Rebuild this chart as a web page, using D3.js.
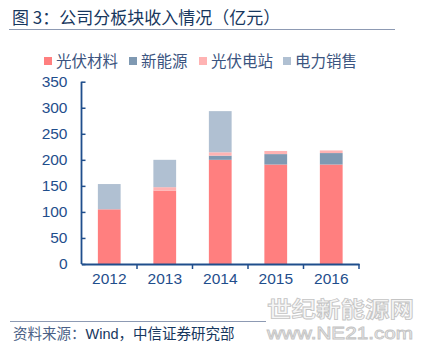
<!DOCTYPE html>
<html><head><meta charset="utf-8">
<script src="https://cdn.jsdelivr.net/npm/d3@7"></script>
<style>
html,body{margin:0;padding:0;background:#fff;}
svg{display:block;font-family:"Liberation Sans",Arial,"Noto Sans CJK SC",sans-serif;}
</style></head>
<body>
<svg id="c" width="423" height="347"></svg>
<script>
const years = ["2012","2013","2014","2015","2016"];
const seriesNames = ["光伏材料","新能源","光伏电站","电力销售"];
const pvMaterials = [105, 141, 200, 191, 191];
const newEnergy = [0, 0, 8, 20, 22];
const pvStations = [0, 6.5, 6.5, 6, 5];
const powerSales = [48.5, 52.5, 79, 0, 0];
const yTicks = [0, 50, 100, 150, 200, 250, 300, 350];
const colors = ["#FF7F7F", "#7F99B2", "#FFB3B3", "#B0C0D2"];

const seriesValues = [pvMaterials, newEnergy, pvStations, powerSales];
const table = years.map((y, i) => {
  const row = {year: y};
  seriesNames.forEach((s, j) => row[s] = seriesValues[j][i]);
  return row;
});

const svg = d3.select("#c");
const navy = "#17375E";
const axisCol = "#1F4E8C";
const cjk = "\"Noto Sans CJK SC\",\"Liberation Sans\",sans-serif";

// title
svg.append("text").attr("x", 12).attr("y", 24)
  .attr("font-family", cjk).attr("font-size", 17).attr("fill", navy)
  .text("图 3：公司分板块收入情况（亿元）");
svg.append("line").attr("x1", 9).attr("x2", 395).attr("y1", 29.5).attr("y2", 29.5)
  .attr("stroke", "#8D9AB3").attr("stroke-width", 1);

// scales
const x = d3.scaleBand().domain(years).range([81.5, 359]).paddingInner(0.59).paddingOuter(0.295);
const y = d3.scaleLinear().domain([0, 350]).range([264, 81.7]);

// bars
const stack = d3.stack().keys(seriesNames)(table);
svg.append("g").selectAll("g").data(stack).join("g")
  .attr("fill", (d, i) => colors[i])
  .selectAll("rect").data(d => d).join("rect")
  .attr("x", d => x(d.data.year))
  .attr("width", x.bandwidth())
  .attr("y", d => y(d[1]))
  .attr("height", d => y(d[0]) - y(d[1]));

// y axis
const ya = svg.append("g").attr("transform", "translate(81.5,0)")
  .call(d3.axisLeft(y).tickValues(yTicks).tickSize(-4).tickPadding(14));
ya.select(".domain").attr("stroke", axisCol).attr("stroke-width", 1.8).attr("d", `M0,${y(0)}V${y(350)}`);
ya.selectAll(".tick line").attr("stroke", axisCol).attr("stroke-width", 1.5);
ya.selectAll(".tick text").attr("fill", axisCol).attr("font-size", 15.5)
  .attr("font-family", "\"Liberation Sans\",Arial,sans-serif");

// x axis
const xa = svg.append("g").attr("transform", `translate(0,${y(0)})`)
  .call(d3.axisBottom(x).tickSize(0).tickPadding(9));
xa.select(".domain").attr("stroke", axisCol).attr("stroke-width", 1.8);
xa.selectAll(".tick text").attr("fill", axisCol).attr("font-size", 15.5)
  .attr("font-family", "\"Liberation Sans\",Arial,sans-serif");
const bounds = d3.range(1, years.length + 1).map(i => x.range()[0] + i * x.step());
xa.selectAll("line.sep").data(bounds).join("line").attr("class", "sep")
  .attr("x1", d => d).attr("x2", d => d).attr("y1", 0).attr("y2", 5)
  .attr("stroke", axisCol).attr("stroke-width", 1.5);

// legend
const legX = [44, 129, 199, 283];
const lg = svg.append("g");
seriesNames.forEach((s, i) => {
  lg.append("rect").attr("x", legX[i]).attr("y", 57).attr("width", 8).attr("height", 8).attr("fill", colors[i]);
  lg.append("text").attr("x", legX[i] + 12).attr("y", 67)
    .attr("font-family", cjk).attr("font-size", 15.5).attr("fill", "#3B5480").text(s);
});

// footer
svg.append("line").attr("x1", 10).attr("x2", 395).attr("y1", 321.5).attr("y2", 321.5)
  .attr("stroke", "#8D9AB3").attr("stroke-width", 1);
const ft = svg.append("text").attr("x", 13).attr("y", 339)
  .attr("font-family", cjk).attr("font-size", 14.5).attr("fill", "#4A5F85");
ft.append("tspan").text("资料来源：");
ft.append("tspan").attr("fill", navy).attr("font-family", "\"Liberation Sans\",Arial,sans-serif").text("Wind");
ft.append("tspan").attr("fill", navy).text("，中信证券研究部");

// watermark
svg.append("rect").attr("x", 266).attr("y", 294).attr("width", 152).attr("height", 50).attr("fill", "#fff");
svg.append("text").attr("x", 267).attr("y", 317).attr("textLength", 147).attr("lengthAdjust", "spacingAndGlyphs")
  .attr("font-family", cjk).attr("font-size", 22).attr("font-weight", "bold")
  .attr("fill", "#f6f6f6").attr("stroke", "#c4c4c4").attr("stroke-width", 0.8).text("世纪新能源网");
svg.append("text").attr("x", 267).attr("y", 339).attr("textLength", 146).attr("lengthAdjust", "spacingAndGlyphs")
  .attr("font-family", "\"Liberation Sans\",Arial,sans-serif").attr("font-size", 16)
  .attr("fill", "#f6f6f6").attr("stroke", "#c4c4c4").attr("stroke-width", 0.8).text("www.NE21.com");
</script>
</body></html>
